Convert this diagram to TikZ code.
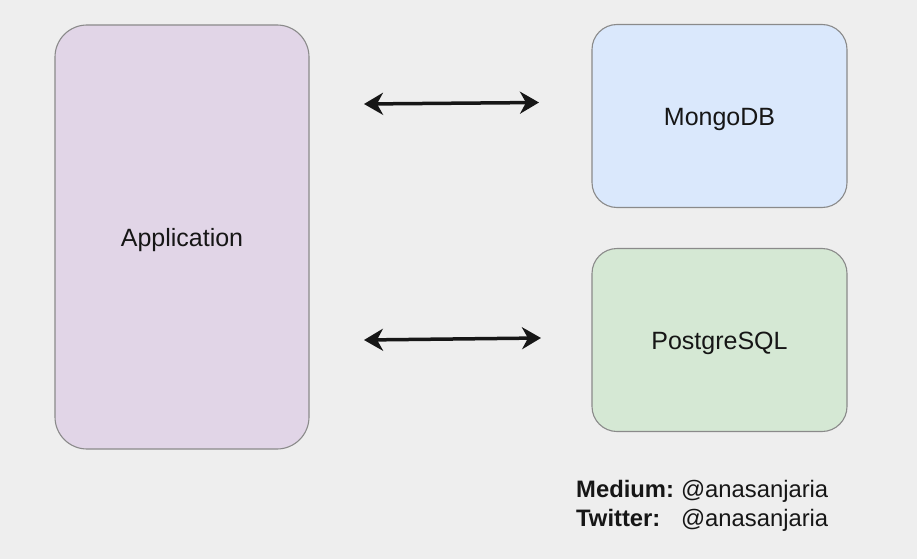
\documentclass[tikz,border=0pt]{standalone}
\usepackage{fontspec}
\setmainfont{Liberation Sans}
\usetikzlibrary{arrows.meta}
\definecolor{bg}{HTML}{EEEEEE}
\definecolor{appfill}{HTML}{E1D5E7}
\definecolor{mongofill}{HTML}{DAE8FC}
\definecolor{pgfill}{HTML}{D5E8D4}
\definecolor{boxline}{HTML}{8A8A8A}
\definecolor{ink}{HTML}{161616}
\tikzset{
  box/.style={draw=boxline, line width=1.1pt, rounded corners=#1, inner sep=0pt, text=ink,
    text height=18.5pt, text depth=0pt,
    font=\fontsize{25}{29}\selectfont},
  link/.style={draw=ink, line width=3.5pt, {Stealth[length=19pt,width=22pt,inset=6pt]}-{Stealth[length=19pt,width=22pt,inset=6pt]}},
}
\begin{document}
\begin{tikzpicture}[x=1pt,y=-1pt]
\fill[bg] (0,0) rectangle (917,559);
\useasboundingbox (0,0) rectangle (917,559);
\node[box=32pt, fill=appfill, minimum width=254pt, minimum height=424pt] (app) at (182,237) {Application};
\node[box=25pt, fill=mongofill, minimum width=255pt, minimum height=183pt] (mongo) at (719.5,116) {MongoDB};
\node[box=25pt, fill=pgfill, minimum width=255pt, minimum height=183pt] (pg) at (719.5,340) {PostgreSQL};
\coordinate (a1) at (364,104);
\coordinate (b1) at (539,102.5);
\coordinate (a2) at (364,340);
\coordinate (b2) at (541,338);
\draw[link] (a1) -- (b1);
\draw[link] (a2) -- (b2);
\node[anchor=north west, inner sep=0pt, text=ink, font=\fontsize{23.8}{29}\selectfont, align=left] (credits) at (576,477)
  {\begin{tabular}{@{}l@{\hspace{7pt}}l@{}}\textbf{Medium:} & @anasanjaria\\ \textbf{Twitter:} & @anasanjaria\end{tabular}};
\end{tikzpicture}
\end{document}
